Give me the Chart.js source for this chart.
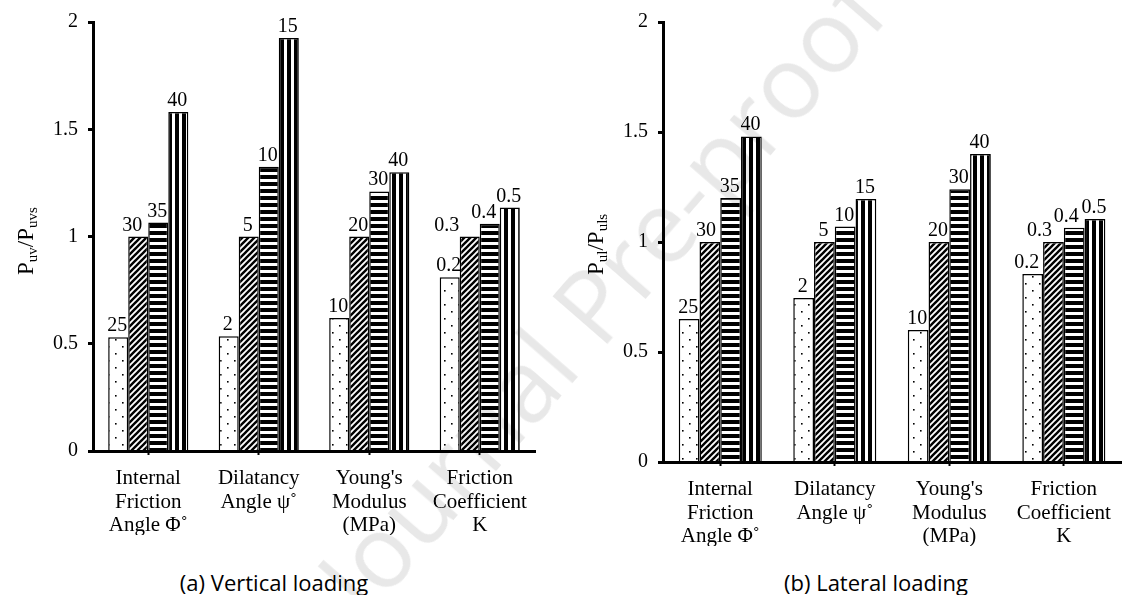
<!DOCTYPE html>
<html lang="en">
<head>
<meta charset="UTF-8">
<title>Pull-out capacity ratios</title>
<script src="https://cdn.jsdelivr.net/npm/chart.js"></script>
<style>
    body { margin: 0; background: #fff; width: 1123px; height: 595px; overflow: hidden; position: relative; }
    .panel { position: absolute; top: 0; }
    .caption {
        position: absolute; top: 569px; line-height: 26px;
        font-family: "Open Sans", sans-serif; font-size: 22px; color: #000;
        transform: translateX(-50%); white-space: nowrap;
    }
    .watermark {
        position: absolute; left: 600px; top: 292px;
        font-family: "Open Sans", sans-serif; font-size: 100px; color: #e8e8e8;
        transform: translate(-50%, -50%) rotate(-49deg);
        white-space: nowrap; mix-blend-mode: darken; pointer-events: none;
    }
</style>
</head>
<body>
    <div class="panel" style="left:0"><canvas id="vertChart" width="560" height="562"></canvas></div>
    <div class="panel" style="left:560px"><canvas id="latChart" width="563" height="562"></canvas></div>
    <div class="caption" style="left:274px">(a) Vertical loading</div>
    <div class="caption" style="left:876px">(b) Lateral loading</div>
    <div class="watermark">Journal Pre-proof</div>

<script>
// categories (studied parameters)
const categories = [
    ['Internal', 'Friction', 'Angle Φ˚'],
    ['Dilatancy', 'Angle ψ˚'],
    ["Young's", 'Modulus', '(MPa)'],
    ['Friction', 'Coefficient', 'K']
];

// parameter value written above each bar, per category
const paramLevels = [
    ['25', '30', '35', '40'],
    ['2', '5', '10', '15'],
    ['10', '20', '30', '40'],
    ['0.2', '0.3', '0.4', '0.5']
];

// (a) vertical loading, Puv/Puvs
const vertLevel1 = [0.53, 0.535, 0.62, 0.81];
const vertLevel2 = [1.0, 1.0, 1.0, 1.0];
const vertLevel3 = [1.065, 1.325, 1.21, 1.06];
const vertLevel4 = [1.58, 1.925, 1.30, 1.135];

// (b) lateral loading, Pul/Puls
const latLevel1 = [0.65, 0.745, 0.60, 0.855];
const latLevel2 = [1.0, 1.0, 1.0, 1.0];
const latLevel3 = [1.20, 1.07, 1.24, 1.065];
const latLevel4 = [1.48, 1.195, 1.40, 1.105];

const yTicks = [0, 0.5, 1, 1.5, 2];

// fill patterns like the original figure
function makePattern(kind) {
    const c = document.createElement('canvas');
    const g = c.getContext('2d');
    if (kind === 'dots') {
        c.width = 14; c.height = 14;
        g.fillStyle = '#fff'; g.fillRect(0, 0, 14, 14);
        g.fillStyle = '#000';
        g.fillRect(3, 3, 1.6, 1.6);
        g.fillRect(10, 10, 1.6, 1.6);
    } else if (kind === 'diag') {
        c.width = 6; c.height = 6;
        g.fillStyle = '#fff'; g.fillRect(0, 0, 6, 6);
        g.strokeStyle = '#000'; g.lineWidth = 2.4;
        [[0, 6, 6, 0], [-3, 3, 3, -3], [3, 9, 9, 3]].forEach(l => {
            g.beginPath(); g.moveTo(l[0], l[1]); g.lineTo(l[2], l[3]); g.stroke();
        });
    } else if (kind === 'horiz') {
        c.width = 4; c.height = 7;
        g.fillStyle = '#fff'; g.fillRect(0, 0, 4, 7);
        g.fillStyle = '#000'; g.fillRect(0, 0, 4, 4);
    } else {
        c.width = 7; c.height = 4;
        g.fillStyle = '#fff'; g.fillRect(0, 0, 7, 4);
        g.fillStyle = '#000'; g.fillRect(0, 0, 4, 4);
    }
    return g.createPattern(c, 'repeat');
}

const fills = [makePattern('dots'), makePattern('diag'), makePattern('horiz'), makePattern('vert')];

// numbers above bars; nudge moves crowded labels sideways ("category-bar": px)
const barValueLabels = {
    id: 'barValueLabels',
    afterDatasetsDraw(chart, args, opts) {
        const ctx = chart.ctx;
        const nudge = opts.nudge || {};
        ctx.save();
        ctx.font = '20px "Liberation Serif"';
        ctx.fillStyle = '#000';
        ctx.textAlign = 'center';
        chart.data.datasets.forEach((ds, i) => {
            chart.getDatasetMeta(i).data.forEach((bar, j) => {
                const dx = nudge[j + '-' + i] || 0;
                ctx.fillText(paramLevels[j][i], bar.x - 1 + dx, bar.y - 6);
            });
        });
        ctx.restore();
    }
};

// rotated axis title with subscripts
const yTitle = {
    id: 'yTitle',
    afterDraw(chart, args, opts) {
        const ctx = chart.ctx;
        ctx.save();
        ctx.translate(opts.x, opts.y);
        ctx.rotate(-Math.PI / 2);
        ctx.fillStyle = '#000';
        let cur = 0;
        opts.parts.forEach(p => {
            ctx.font = (p[1] ? '15px' : '23px') + ' "Liberation Serif"';
            ctx.fillText(p[0], cur, p[1] ? 4 : 0);
            cur += ctx.measureText(p[0]).width;
        });
        ctx.restore();
    }
};

function makeChart(id, series, titleParts, titleX, padding, nudge) {
    const ctx = document.getElementById(id).getContext('2d');
    return new Chart(ctx, {
        type: 'bar',
        data: {
            labels: categories,
            datasets: series.map((s, i) => ({
                data: s,
                backgroundColor: fills[i],
                borderColor: '#000',
                borderWidth: 1.5,
                categoryPercentage: 0.725,
                barPercentage: 1.0
            }))
        },
        options: {
            responsive: false,
            animation: false,
            layout: { padding: padding },
            plugins: {
                legend: { display: false },
                tooltip: { enabled: false },
                yTitle: { x: titleX, y: 275, parts: titleParts },
                barValueLabels: { nudge: nudge }
            },
            scales: {
                x: {
                    afterFit: s => { s.height = 84; },
                    border: { display: true, color: '#000', width: 3, z: 1 },
                    grid: { offset: false, drawOnChartArea: false, tickLength: 4, tickWidth: 2, tickColor: '#000' },
                    ticks: {
                        color: '#000', padding: 12, maxRotation: 0, autoSkip: false,
                        font: { family: 'Liberation Serif', size: 21, lineHeight: 1.12 }
                    }
                },
                y: {
                    min: 0, max: 2,
                    afterFit: s => { s.width = 50; },
                    afterBuildTicks: s => { s.ticks = yTicks.map(v => ({ value: v })); },
                    border: { display: true, color: '#000', width: 3, z: 1 },
                    grid: { drawOnChartArea: false, tickLength: 5, tickWidth: 3, tickColor: '#000' },
                    ticks: {
                        color: '#000', padding: 10,
                        font: { family: 'Liberation Serif', size: 20 },
                        callback: v => String(v)
                    }
                }
            }
        },
        plugins: [barValueLabels, yTitle]
    });
}

makeChart('vertChart', [vertLevel1, vertLevel2, vertLevel3, vertLevel4],
    [['P', 0], ['uv', 1], ['/P', 0], ['uvs', 1]], 33,
    { left: 43, top: 22, right: 25, bottom: 27 },
    { '0-1': -5, '3-1': -22, '3-2': -5 });

makeChart('latChart', [latLevel1, latLevel2, latLevel3, latLevel4],
    [['P', 0], ['ul', 1], ['/P', 0], ['uls', 1]], 43,
    { left: 53, top: 22, right: 1, bottom: 16 },
    { '0-1': -3, '3-0': -5, '3-1': -13, '3-2': -7 });
</script>
</body>
</html>
